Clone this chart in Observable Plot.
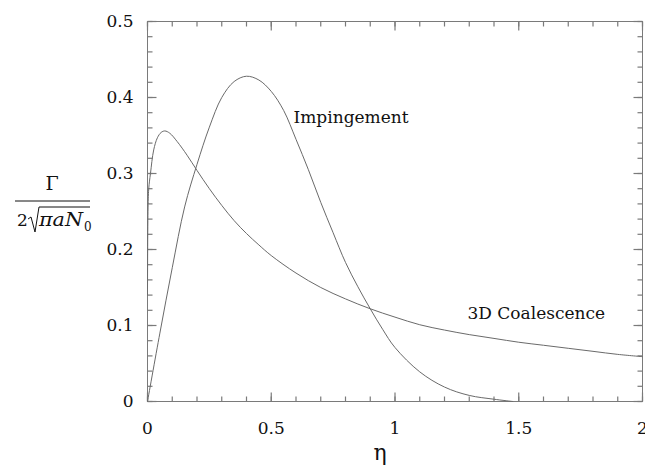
<!DOCTYPE html>
<html><head><meta charset="utf-8">
<script src="https://cdn.jsdelivr.net/npm/d3@7"></script>
<script src="https://cdn.jsdelivr.net/npm/@observablehq/plot@0.6"></script>
<style>
body{margin:0;background:#fff}
#chart{position:relative;width:645px;height:470px}
</style>
</head><body><div id="chart"></div>
<script>
const etaImp = [0, 0.05, 0.1, 0.15, 0.2, 0.25, 0.3, 0.35, 0.4, 0.45, 0.5, 0.55, 0.6, 0.65, 0.7, 0.75, 0.8, 0.85, 0.9, 0.95, 1.0, 1.1, 1.2, 1.3, 1.4, 1.476];
const valImp = [0, 0.090, 0.176, 0.256, 0.312, 0.361, 0.400, 0.421, 0.428, 0.423, 0.408, 0.383, 0.345, 0.305, 0.262, 0.222, 0.183, 0.151, 0.122, 0.095, 0.071, 0.039, 0.019, 0.008, 0.003, 0];
const etaCoal = [0, 0.002, 0.005, 0.012, 0.025, 0.04, 0.055, 0.07, 0.09, 0.12, 0.16, 0.2, 0.25, 0.3, 0.35, 0.4, 0.45, 0.5, 0.6, 0.7, 0.8, 0.9, 1.0, 1.1, 1.2, 1.3, 1.4, 1.5, 1.6, 1.7, 1.8, 1.9, 2.0];
const valCoal = [0.14, 0.25, 0.28, 0.300, 0.331, 0.347, 0.354, 0.356, 0.353, 0.342, 0.324, 0.304, 0.280, 0.258, 0.238, 0.221, 0.206, 0.192, 0.169, 0.150, 0.135, 0.122, 0.111, 0.101, 0.094, 0.088, 0.083, 0.078, 0.074, 0.070, 0.066, 0.062, 0.059];
const xMajor = [0, 0.5, 1, 1.5, 2];
const xMinor = [0, 0.1, 0.2, 0.3, 0.4, 0.5, 0.6, 0.7, 0.8, 0.9, 1, 1.1, 1.2, 1.3, 1.4, 1.5, 1.6, 1.7, 1.8, 1.9, 2];
const yMajor = [0, 0.1, 0.2, 0.3, 0.4, 0.5];
const yMinor = [0, 0.02, 0.04, 0.06, 0.08, 0.1, 0.12, 0.14, 0.16, 0.18, 0.2, 0.22, 0.24, 0.26, 0.28, 0.3, 0.32, 0.34, 0.36, 0.38, 0.4, 0.42, 0.44, 0.46, 0.48, 0.5];
const seriesLabels = ["Impingement", "3D Coalescence"];
const xLabel = "η";

const imp = etaImp.map((e, i) => ({eta: e, v: valImp[i]}));
const coal = etaCoal.map((e, i) => ({eta: e, v: valCoal[i]}));

const serif = "DejaVu Serif";
const axisGray = "#7a7a7a";
const lineGray = "#6a6a6a";

const W = 645, H = 470, mL = 147, mR = 3, mT = 21, mB = 69;
const ux = 2 / (W - mL - mR), uy = 0.5 / (H - mT - mB);
const tickLinks = [];
for (const [vals, len] of [[xMinor, 5], [xMajor, 9]]) for (const v of vals) {
  tickLinks.push({x1: v, x2: v, y1: 0, y2: len * uy});
  tickLinks.push({x1: v, x2: v, y1: 0.5, y2: 0.5 - len * uy});
}
for (const [vals, len] of [[yMinor, 5], [yMajor, 9]]) for (const v of vals) {
  tickLinks.push({y1: v, y2: v, x1: 0, x2: len * ux});
  tickLinks.push({y1: v, y2: v, x1: 2, x2: 2 - len * ux});
}

const plot = Plot.plot({
  width: W, height: H,
  marginLeft: mL, marginRight: mR, marginTop: mT, marginBottom: mB,
  x: {domain: [0, 2]},
  y: {domain: [0, 0.5]},
  style: {fontSize: "17px", fontFamily: serif, color: "#111", background: "#fff", overflow: "visible"},
  marks: [
    Plot.frame({stroke: axisGray}),
    Plot.link(tickLinks, {x1: "x1", y1: "y1", x2: "x2", y2: "y2", stroke: axisGray, strokeWidth: 1.2}),
    Plot.axisX(xMajor, {anchor: "bottom", tickSize: 0, tickPadding: 20, tickFormat: d => String(d), label: null, fill: "#111", fontSize: 17, fontFamily: serif}),
    Plot.axisY(yMajor, {anchor: "left", tickSize: 0, tickPadding: 14, tickFormat: d => String(d), label: null, fill: "#111", fontSize: 17, fontFamily: serif}),
    Plot.line(imp, {x: "eta", y: "v", stroke: lineGray, strokeWidth: 1, curve: "catmull-rom"}),
    Plot.line(coal, {x: "eta", y: "v", stroke: lineGray, strokeWidth: 1, curve: "catmull-rom"}),
    Plot.text([seriesLabels[0]], {x: 0.59, y: 0.366, text: d => d, textAnchor: "start", lineAnchor: "bottom", fontSize: 17, fontFamily: serif, fill: "#111"}),
    Plot.text([seriesLabels[1]], {x: 1.293, y: 0.108, text: d => d, textAnchor: "start", lineAnchor: "bottom", fontSize: 17, fontFamily: serif, fill: "#111"}),
    Plot.text([xLabel], {x: 0.94, frameAnchor: "bottom", dy: 58, text: d => d, lineAnchor: "bottom", fontSize: 22, fontFamily: serif, fill: "#111"})
  ]
});
document.getElementById("chart").appendChild(plot);

const svg = d3.select(plot);
const g = svg.append("g").attr("fill", "#111").attr("text-anchor", "start").attr("font-family", serif);
g.append("text").attr("x", 52).attr("y", 190).attr("text-anchor", "middle").attr("font-size", 19).text("Γ");
g.append("line").attr("x1", 15).attr("x2", 90).attr("y1", 201).attr("y2", 201).attr("stroke", "#111").attr("stroke-width", 1);
g.append("text").attr("x", 17).attr("y", 226).attr("font-size", 17).text("2");
g.append("path").attr("d", "M28,219 L31,217 L35,232 L39,207 L90,207").attr("fill", "none").attr("stroke", "#111").attr("stroke-width", 1);
g.append("text").attr("x", 39).attr("y", 226).attr("font-style", "italic").attr("font-size", 18)
  .attr("textLength", 44).attr("lengthAdjust", "spacingAndGlyphs").text("πaN");
g.append("text").attr("x", 84).attr("y", 231).attr("font-size", 12).text("0");
</script>
</body></html>
